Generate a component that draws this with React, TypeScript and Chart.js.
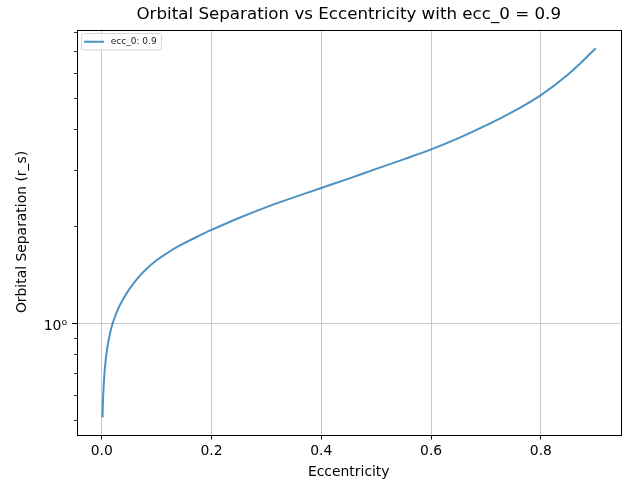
import React, { useEffect, useRef } from 'react';
import { Chart, registerables } from 'chart.js';

Chart.register(...registerables);

const eccentricity = [0.0015, 0.002, 0.003, 0.005, 0.0075, 0.01, 0.015, 0.02, 0.03, 0.04, 0.05, 0.065, 0.08, 0.1, 0.12, 0.14, 0.17, 0.2, 0.25, 0.3, 0.35, 0.4, 0.45, 0.5, 0.55, 0.6, 0.65, 0.7, 0.75, 0.8, 0.85, 0.9];
const separation = [0.51, 0.549, 0.61, 0.697, 0.775, 0.835, 0.928, 1.0, 1.111, 1.197, 1.275, 1.377, 1.467, 1.569, 1.656, 1.736, 1.843, 1.949, 2.123, 2.294, 2.46, 2.631, 2.814, 3.016, 3.229, 3.467, 3.758, 4.115, 4.55, 5.11, 5.934, 7.142];
const xTicks = [0, 0.2, 0.4, 0.6, 0.8];
const yMajorTicks = [1];
const yMinorTicks = [0.5, 0.6, 0.7, 0.8, 0.9, 2, 3, 4, 5, 6, 7, 8];
const yMajorLabels = ['10\u2070'];
const seriesLabel = 'ecc_0: 0.9';
const titleText = 'Orbital Separation vs Eccentricity with ecc_0 = 0.9';
const xTitle = 'Eccentricity';
const yTitle = 'Orbital Separation (r_s)';

const FONT = "'DejaVu Sans', sans-serif";
const LINE_COLOR = 'rgba(31,119,180,0.8)';
const GRID_COLOR = '#c8c8c8';

const decor = {
  id: 'decor',
  afterDraw(chart: any) {
    const ctx = chart.ctx;
    const { left, right, top, bottom } = chart.chartArea;
    const ys = chart.scales.y;
    ctx.save();
    // spines
    ctx.strokeStyle = '#000';
    ctx.lineWidth = 1;
    ctx.strokeRect(Math.round(left) + 0.5, Math.round(top) + 0.5, Math.round(right - left), Math.round(bottom - top));
    // minor ticks on y
    ctx.lineWidth = 0.8;
    for (const v of yMinorTicks) {
      const py = Math.round(ys.getPixelForValue(v)) + 0.5;
      ctx.beginPath();
      ctx.moveTo(left - 3, py);
      ctx.lineTo(left, py);
      ctx.stroke();
    }
    // title
    ctx.fillStyle = '#000';
    ctx.font = `16.7px ${FONT}`;
    ctx.textAlign = 'center';
    ctx.textBaseline = 'alphabetic';
    ctx.fillText(titleText, (left + right) / 2, 18.5);
    // legend
    const ds = chart.data.datasets[0];
    ctx.font = `9px ${FONT}`;
    const tw = ctx.measureText(ds.label).width;
    const x0 = left + 4.5;
    const y0 = top + 4;
    const h = 16.5;
    const w = 29.5 + tw + 4.6;
    ctx.beginPath();
    const r = 2;
    ctx.moveTo(x0 + r, y0);
    ctx.lineTo(x0 + w - r, y0);
    ctx.arcTo(x0 + w, y0, x0 + w, y0 + r, r);
    ctx.lineTo(x0 + w, y0 + h - r);
    ctx.arcTo(x0 + w, y0 + h, x0 + w - r, y0 + h, r);
    ctx.lineTo(x0 + r, y0 + h);
    ctx.arcTo(x0, y0 + h, x0, y0 + h - r, r);
    ctx.lineTo(x0, y0 + r);
    ctx.arcTo(x0, y0, x0 + r, y0, r);
    ctx.closePath();
    ctx.fillStyle = 'rgba(255,255,255,0.8)';
    ctx.fill();
    ctx.strokeStyle = '#d6d6d6';
    ctx.lineWidth = 1;
    ctx.stroke();
    ctx.strokeStyle = ds.borderColor;
    ctx.lineWidth = 2;
    ctx.beginPath();
    ctx.moveTo(x0 + 2.6, y0 + h / 2);
    ctx.lineTo(x0 + 22.6, y0 + h / 2);
    ctx.stroke();
    ctx.fillStyle = '#222';
    ctx.textAlign = 'left';
    ctx.textBaseline = 'middle';
    ctx.fillText(ds.label, x0 + 29.3, y0 + h / 2);
    ctx.restore();
  },
};

export default function App() {
  const ref = useRef<HTMLCanvasElement>(null);
  useEffect(() => {
    document.body.style.margin = '0';
    const canvas = ref.current!;
    const chart = new Chart(canvas, {
      type: 'line',
      data: {
        datasets: [
          {
            label: seriesLabel,
            data: eccentricity.map((x, i) => ({ x, y: separation[i] })),
            borderColor: LINE_COLOR,
            borderWidth: 2,
            pointRadius: 0,
            tension: 0.4,
            fill: false,
          },
        ],
      },
      options: {
        animation: false,
        responsive: false,
        devicePixelRatio: 1,
        layout: { padding: { top: 29.5, right: 13.5, left: 0, bottom: 0 } },
        plugins: {
          legend: { display: false },
          title: { display: false },
          tooltip: { enabled: false },
        },
        scales: {
          x: {
            type: 'linear',
            min: -0.045,
            max: 0.945,
            afterBuildTicks: (s: any) => {
              s.ticks = xTicks.map((v) => ({ value: v }));
            },
            afterFit: (s: any) => {
              s.height = 52.5;
            },
            ticks: {
              callback: (v: any) => Number(v).toFixed(1),
              font: { family: FONT, size: 13.9 },
              color: '#000',
              padding: 4,
              maxRotation: 0,
              autoSkip: false,
            },
            grid: { color: GRID_COLOR, lineWidth: 1, tickColor: '#000', tickLength: 5, tickWidth: 1 },
            border: { display: false },
            title: {
              display: true,
              text: xTitle,
              font: { family: FONT, size: 13.9 },
              color: '#000',
              padding: { top: 0, bottom: 6 },
            },
          },
          y: {
            type: 'logarithmic',
            min: 0.4515,
            max: 8.17,
            afterBuildTicks: (s: any) => {
              s.ticks = yMajorTicks.map((v) => ({ value: v, major: true }));
            },
            afterFit: (s: any) => {
              s.width = 77;
            },
            ticks: {
              callback: (v: any) => {
                const i = yMajorTicks.indexOf(Number(v));
                return i >= 0 ? yMajorLabels[i] : '';
              },
              font: { family: FONT, size: 13.9 },
              color: '#000',
              padding: 5,
              labelOffset: 3,
              autoSkip: false,
            },
            grid: { color: GRID_COLOR, lineWidth: 1, tickColor: '#000', tickLength: 5, tickWidth: 1 },
            border: { display: false },
            title: {
              display: true,
              text: yTitle,
              font: { family: FONT, size: 13.9 },
              color: '#000',
              padding: { top: 13.7, bottom: 0 },
            },
          },
        },
      } as any,
      plugins: [decor],
    });
    return () => chart.destroy();
  }, []);
  return <canvas ref={ref} width={634} height={487} style={{ display: 'block' }} />;
}
